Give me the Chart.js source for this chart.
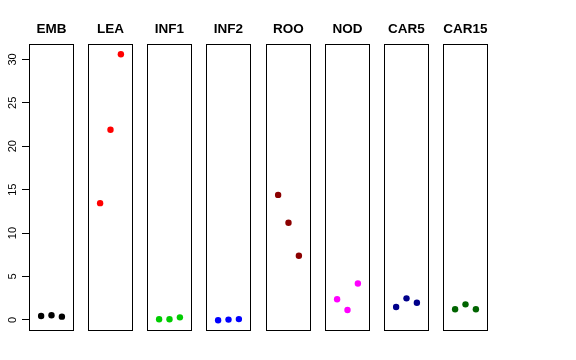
<!DOCTYPE html>
<html>
<head>
<meta charset="utf-8">
<script src="https://cdn.jsdelivr.net/npm/chart.js@4/dist/chart.umd.min.js"></script>
<style>
  html, body { margin: 0; padding: 0; background: #fff; }
  #wrap { position: relative; width: 576px; height: 360px; overflow: hidden; }
  #wrap canvas { position: absolute; top: 0; }
</style>
</head>
<body>
<div id="wrap"></div>
<script>
// ---- data ----
const tissues = ['EMB', 'LEA', 'INF1', 'INF2', 'ROO', 'NOD', 'CAR5', 'CAR15'];
const replicates = [1, 2, 3];
const valEMB   = [0.46, 0.54, 0.38];
const valLEA   = [13.45, 21.9, 30.6];
const valINF1  = [0.08, 0.08, 0.3];
const valINF2  = [-0.04, 0.04, 0.1];
const valROO   = [14.4, 11.2, 7.4];
const valNOD   = [2.38, 1.15, 4.2];
const valCAR5  = [1.49, 2.49, 1.99];
const valCAR15 = [1.23, 1.8, 1.23];
const yTickValues = [0, 5, 10, 15, 20, 25, 30];
const tissueColors = ['#000000', '#FF0000', '#00CD00', '#0000FF', '#8B0000', '#FF00FF', '#00008B', '#006400'];

const allValues = [valEMB, valLEA, valINF1, valINF2, valROO, valNOD, valCAR5, valCAR15];

// ---- layout ----
const FONT = '"Liberation Sans", Arial, Helvetica, sans-serif';
const Y_MIN = -1.27, Y_MAX = 31.83;
const X_MIN = -0.166, X_MAX = 4.166;
const firstLeft = 29, pitch = 59.14, boxW = 45;
const axisW = 29;

const boxPlugin = {
  id: 'panelBox',
  afterDraw(chart) {
    const a = chart.chartArea, ctx = chart.ctx;
    ctx.save();
    ctx.strokeStyle = '#000';
    ctx.lineWidth = 1;
    const l = Math.round(a.left) + 0.5, t = Math.round(a.top) + 0.5;
    const r = Math.round(a.right) - 0.5, b = Math.round(a.bottom) - 0.5;
    ctx.strokeRect(l, t, r - l, b - t);
    ctx.restore();
  }
};

const wrap = document.getElementById('wrap');
tissues.forEach((name, i) => {
  const isFirst = i === 0;
  const panelLeft = Math.round(firstLeft + i * pitch);
  const cv = document.createElement('canvas');
  const w = isFirst ? axisW + boxW + 1 : boxW + 2;
  cv.width = w; cv.height = 360;
  cv.style.width = w + 'px'; cv.style.height = '360px';
  cv.style.left = (isFirst ? 0 : panelLeft - 1) + 'px';
  wrap.appendChild(cv);

  const yScale = {
    type: 'linear', min: Y_MIN, max: Y_MAX,
    display: isFirst,
    afterBuildTicks(scale) { scale.ticks = yTickValues.map(v => ({ value: v })); },
    border: { display: false },
    grid: { drawOnChartArea: false, drawTicks: true, tickLength: 7, color: '#000', lineWidth: 1 },
    ticks: {
      color: '#000',
      font: { family: FONT, size: 11 },
      minRotation: 90, maxRotation: 90,
      crossAlign: 'center',
      padding: 3,
      autoSkip: false
    }
  };
  if (isFirst) yScale.afterFit = (scale) => { scale.width = axisW; };

  new Chart(cv, {
    type: 'scatter',
    data: {
      datasets: [{
        data: replicates.map((r, j) => ({ x: r, y: allValues[i][j] })),
        backgroundColor: tissueColors[i],
        borderColor: tissueColors[i],
        pointRadius: 3.2,
        pointBorderWidth: 0,
        pointHoverRadius: 3.2
      }]
    },
    options: {
      responsive: false,
      animation: false,
      devicePixelRatio: 1,
      layout: { autoPadding: false, padding: { left: isFirst ? 0 : 1, right: 1, top: 0, bottom: 29 } },
      plugins: {
        legend: { display: false },
        tooltip: { enabled: false },
        title: {
          display: true,
          text: name,
          fullSize: false,
          color: '#000',
          font: { family: FONT, size: 13.5, weight: 'bold', lineHeight: 1 },
          padding: { top: 23, bottom: 7 }
        }
      },
      scales: {
        x: { type: 'linear', min: X_MIN, max: X_MAX, display: false },
        y: yScale
      }
    },
    plugins: [boxPlugin]
  });
});
</script>
</body>
</html>
